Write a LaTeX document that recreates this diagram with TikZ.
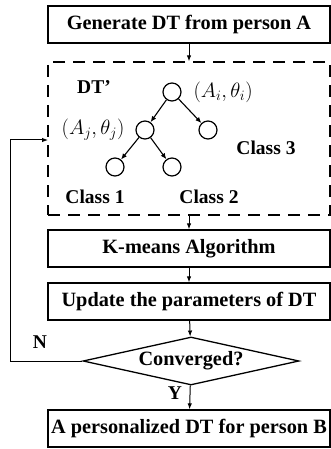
\documentclass[tikz,border=0pt]{standalone}
\usepackage{fontspec}
\setmainfont{Liberation Serif}
\usetikzlibrary{shapes.geometric,arrows.meta}

\tikzstyle{block}=[draw,line width=1.3pt,minimum width=282pt,minimum height=37pt,inner sep=0pt,font=\fontsize{20.3}{22}\selectfont\bfseries]
\tikzstyle{dash box}=[draw,line width=1.3pt,dash pattern=on 12pt off 8pt,minimum width=282pt,minimum height=153pt,inner sep=0pt]
\tikzstyle{decision}=[diamond,draw,line width=1.3pt,aspect=4.5,minimum width=216pt,minimum height=48pt,inner sep=0pt,font=\fontsize{20.3}{22}\selectfont\bfseries]
\tikzstyle{vertex}=[circle,draw,line width=1.2pt,minimum size=18pt,inner sep=0pt]
\tikzstyle{label text}=[font=\fontsize{19.5}{21}\selectfont\bfseries]
\tikzstyle{param}=[font=\fontsize{21}{23}\selectfont]
\tikzstyle{flow} = [draw,line width=1pt,-{Latex[length=6pt,width=4.5pt]}]
\tikzstyle{tree edge} = [draw,line width=1.1pt,-{Latex[length=6pt,width=5pt]}]

\begin{document}
\begin{tikzpicture}[x=1pt,y=-1pt]
			\useasboundingbox (0,0) rectangle (331,449);
			% boxes of the flow
			\node[block] (gen) at (189,24.5) {Generate DT from person A};
			\node[dash box] (dtbox) at (189,138.5) {};
			\node[block] (kmeans) at (189,248.5) {K-means Algorithm};
			\node[block] (update) at (189,301.5) {Update the parameters of DT};
			\node[decision] (conv) at (191,361) {Converged?};
			\node[block] (final) at (189,428.5) {A personalized DT for person B};
			% the tree inside the dashed box
			\node[label text] (dtname) at (94,87) {DT’};
			\node[vertex] (root) at (172,92) {};
			\node[vertex] (lc) at (145,130) {};
			\node[vertex] (rc) at (208,130) {};
			\node[vertex] (llc) at (115,167) {};
			\node[vertex] (lrc) at (172,167) {};
			\node[param,anchor=west] (pi) at (190,92) {$(A_i,\theta_i)$};
			\node[param,anchor=east] (pj) at (128,130) {$(A_j,\theta_j)$};
			\node[label text] (c3) at (266,148) {Class 3};
			\node[label text] (c1) at (95,197) {Class 1};
			\node[label text] (c2) at (209,197) {Class 2};
	   		 % Connect vertices with edges
	   		 \foreach \source/ \dest in {root/lc, root/rc, lc/llc, lc/lrc}
			 \path[tree edge] (\source) to (\dest);
			% connect the flow
			\foreach \source/ \dest in {gen/dtbox, dtbox/kmeans, kmeans/update, update/conv, conv/final}
			 \path[flow] (\source) to (\dest);
			\coordinate (loopx) at (10,361);
			\coordinate (loopin) at (48,140);
			\path[flow] (conv.west) -- (loopx) |- (loopin);
			\node[label text] (no) at (40,342) {N};
			\node[label text] (yes) at (175,393) {Y};
		\end{tikzpicture}
\end{document}
